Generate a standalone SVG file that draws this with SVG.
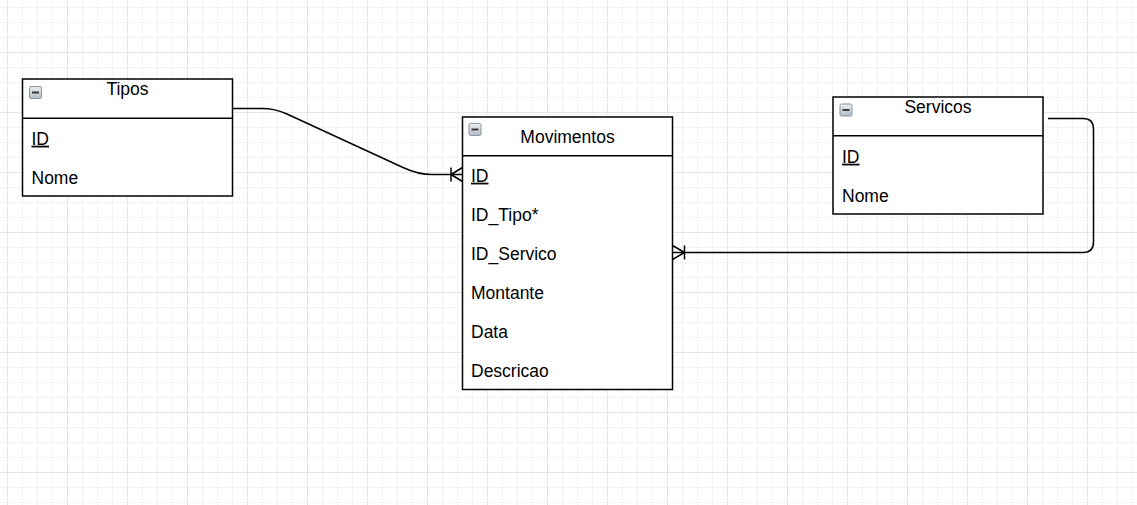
<svg xmlns="http://www.w3.org/2000/svg" width="1137" height="505" viewBox="0 0 1137 505">
<defs>
<pattern id="minor" patternUnits="userSpaceOnUse" x="7" y="7" width="15" height="15"><path d="M0 0.5H15M0.5 0V15" stroke="#f3f3f3" stroke-width="1" fill="none"/></pattern>
<pattern id="major" patternUnits="userSpaceOnUse" x="67" y="52" width="60" height="60"><path d="M0 0.5H60M0.5 0V60" stroke="#e6e6e6" stroke-width="1" fill="none"/></pattern>
<linearGradient id="ig" x1="0" y1="0" x2="0" y2="1"><stop offset="0" stop-color="#eef0f2"/><stop offset="1" stop-color="#b4bcc6"/></linearGradient>
<g id="icon"><rect x="0.5" y="0.5" width="12" height="12" rx="1.5" fill="url(#ig)" stroke="#8c949e" stroke-width="1"/><rect x="3" y="5.5" width="7" height="2" fill="#3a3a3a"/></g>
</defs>
<style>
.box{fill:#fff;stroke:#000;stroke-width:1.5}
.sep{stroke:#000;stroke-width:1.5}
.t{font-family:"Liberation Sans",Arial,sans-serif;font-size:17.5px;fill:#000}
.c{text-anchor:middle}
.u{text-decoration:underline}
.edge{fill:none;stroke:#000;stroke-width:1.5}
</style>
<rect width="1137" height="505" fill="#fff"/>
<rect width="1137" height="505" fill="url(#minor)"/>
<rect width="1137" height="505" fill="url(#major)"/>

<g id="tipos">
<rect class="box" x="22.5" y="79" width="210" height="117"/>
<line class="sep" x1="22.5" y1="118.2" x2="232.5" y2="118.2"/>
<use href="#icon" x="29" y="86"/>
<text class="t c" x="127.5" y="95">Tipos</text>
<text class="t u" x="31.5" y="144.7">ID</text>
<text class="t" x="31.5" y="183.7">Nome</text>
</g>

<g id="movimentos">
<rect class="box" x="462.5" y="117" width="210" height="272.5"/>
<line class="sep" x1="462.5" y1="155.8" x2="672.5" y2="155.8"/>
<use href="#icon" x="468.5" y="123"/>
<text class="t c" x="567.5" y="143.3">Movimentos</text>
<text class="t u" x="471" y="181.7">ID</text>
<text class="t" x="471" y="220.7">ID_Tipo*</text>
<text class="t" x="471" y="259.7">ID_Servico</text>
<text class="t" x="471" y="298.7">Montante</text>
<text class="t" x="471" y="337.7">Data</text>
<text class="t" x="471" y="376.7">Descricao</text>
</g>

<g id="servicos">
<rect class="box" x="833" y="97" width="210" height="117"/>
<line class="sep" x1="833" y1="135.8" x2="1043" y2="135.8"/>
<use href="#icon" x="839.5" y="103.5"/>
<text class="t c" x="938" y="112.7">Servicos</text>
<text class="t u" x="842" y="162.7">ID</text>
<text class="t" x="842" y="201.7">Nome</text>
</g>

<g id="connectors">
<path class="edge" d="M232.5 108.5 L262 108.5 Q275 108.5 287 114 L403 167.5 Q418 174.5 432 174.5 L462.5 174.5"/>
<path class="edge" d="M451 167.5 V181.5 M451 174.5 L462.5 167.5 M451 174.5 L462.5 181.5"/>
<path class="edge" d="M1048 118.5 H1083 Q1093.5 118.5 1093.5 129 V242 Q1093.5 252.5 1083 252.5 H672.5"/>
<path class="edge" d="M684.5 245.5 V259.5 M684.5 252.5 L672.5 245.5 M684.5 252.5 L672.5 259.5"/>
</g>
</svg>
